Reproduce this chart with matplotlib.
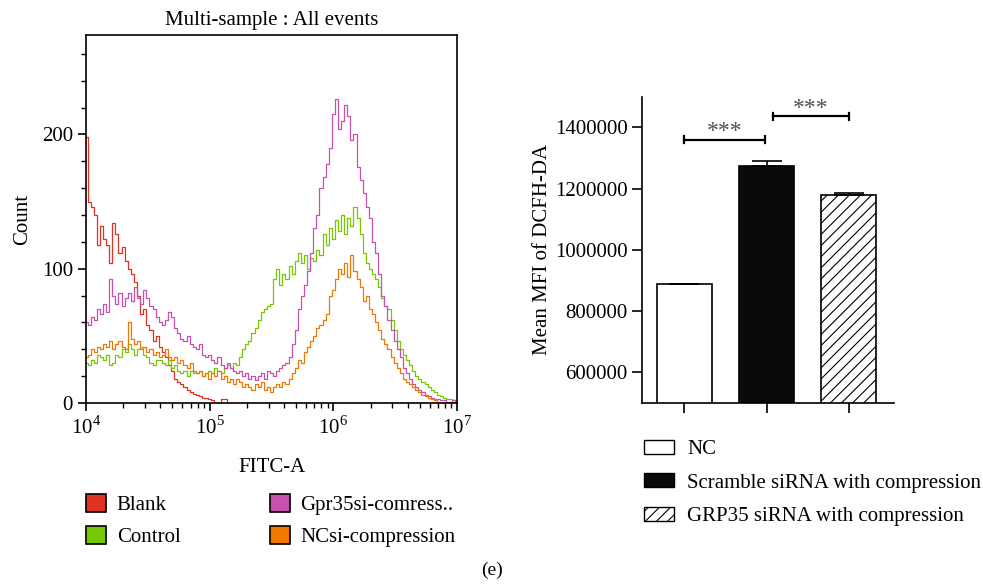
import numpy as np
import matplotlib
matplotlib.use('Agg')
from matplotlib import pyplot as plt
from matplotlib.patches import Patch
from matplotlib.ticker import FuncFormatter

plt.rcParams['font.family'] = ['Liberation Serif', 'DejaVu Serif']
plt.rcParams['mathtext.fontset'] = 'custom'
plt.rcParams['mathtext.rm'] = 'Liberation Serif'
plt.rcParams['hatch.linewidth'] = 0.8

# 直方图数据：log10(FITC-A) 从 4 到 7，每 0.025 一个点
log_bins = np.linspace(4, 7, 121)

blank = [198, 150, 146, 140, 118, 132, 122, 118, 104, 134,
         126, 112, 116, 106, 100, 96, 90, 80, 66, 70,
         58, 54, 46, 50, 42, 38, 34, 28, 24, 18,
         16, 14, 12, 10, 8, 7, 6, 5, 4, 4,
         3, 2, 0, 0, 3, 3, 0, 0, 0, 0,
         0, 0, 0, 0, 0, 0, 0, 0, 0, 0,
         0, 0, 0, 0, 0, 0, 0, 0, 0, 0,
         0, 0, 0, 0, 0, 0, 0, 0, 0, 0,
         0, 0, 0, 0, 0, 0, 0, 0, 0, 0,
         0, 0, 0, 0, 0, 0, 0, 0, 0, 0,
         0, 0, 0, 0, 0, 0, 0, 0, 0, 0,
         0, 0, 0, 0, 0, 0, 0, 0, 0, 0,
         0]
control = [30, 28, 32, 30, 36, 34, 32, 36, 28, 30,
           36, 34, 40, 38, 44, 40, 36, 40, 42, 36,
           34, 30, 28, 32, 32, 30, 28, 32, 26, 28,
           24, 22, 24, 20, 24, 22, 22, 24, 20, 22,
           24, 22, 26, 24, 22, 26, 28, 26, 30, 28,
           34, 40, 44, 46, 52, 56, 62, 68, 70, 72,
           74, 92, 100, 88, 96, 92, 102, 96, 106, 112,
           104, 110, 100, 108, 106, 114, 110, 126, 118, 130,
           122, 136, 128, 140, 126, 138, 132, 146, 138, 126,
           112, 104, 100, 96, 92, 86, 78, 72, 70, 62,
           54, 46, 40, 36, 32, 28, 24, 20, 18, 16,
           14, 12, 10, 8, 6, 5, 4, 3, 3, 2,
           2]
gpr35 = [60, 58, 64, 62, 70, 66, 74, 68, 92, 80,
         74, 82, 72, 78, 82, 76, 86, 78, 74, 84,
         78, 72, 70, 64, 60, 58, 62, 68, 64, 56,
         52, 48, 46, 50, 44, 42, 40, 44, 36, 34,
         36, 32, 30, 34, 28, 26, 30, 26, 24, 22,
         24, 20, 22, 18, 20, 17, 20, 22, 18, 24,
         22, 20, 24, 26, 28, 30, 34, 44, 54, 70,
         80, 88, 98, 112, 130, 140, 160, 168, 178, 190,
         215, 226, 204, 210, 222, 214, 196, 200, 176, 166,
         156, 146, 138, 120, 112, 96, 80, 72, 62, 54,
         46, 40, 34, 26, 22, 18, 14, 12, 10, 8,
         6, 5, 4, 3, 3, 2, 2, 1, 1, 2,
         1]
ncsi = [34, 36, 40, 38, 42, 40, 44, 42, 46, 40,
        44, 46, 42, 40, 60, 48, 44, 46, 40, 42,
        38, 40, 36, 38, 34, 36, 40, 34, 32, 34,
        30, 32, 28, 26, 30, 24, 22, 24, 20, 22,
        18, 22, 20, 24, 18, 20, 16, 18, 14, 18,
        16, 12, 14, 12, 10, 14, 12, 16, 10, 12,
        8, 12, 14, 12, 16, 14, 18, 22, 26, 32,
        30, 38, 42, 46, 50, 56, 58, 62, 66, 80,
        84, 92, 100, 96, 104, 94, 110, 98, 92, 86,
        76, 80, 70, 66, 60, 54, 48, 44, 40, 34,
        30, 26, 22, 18, 16, 14, 12, 10, 8, 6,
        5, 4, 3, 2, 0, 0, 0, 0, 0, 0,
        0]

hist_names = ['Blank', 'Control', 'Gpr35si-comress..', 'NCsi-compression']
hist_colors = ['#e03222', '#78c800', '#c850b0', '#f07800']

# 柱状图数据
groups = ['NC', 'Scramble siRNA with compression', 'GRP35 siRNA with compression']
mfi = [887000, 1275000, 1180000]
mfi_err = [3000, 14000, 4000]

fig = plt.figure(figsize=(9.83, 5.86), dpi=100)

# 左：流式直方图
ax = fig.add_axes([0.0875, 0.3123, 0.3774, 0.6280])
xs = 10 ** log_bins
for vals, c in zip([blank, control, gpr35, ncsi], hist_colors):
	ax.step(xs, vals, where='mid', color=c, lw=0.9)
ax.set_xscale('log')
ax.set_xlim(1e4, 1e7)
ax.set_ylim(0, 274)
ax.set_xticks([1e4, 1e5, 1e6, 1e7])
ax.set_xticklabels(['$10^4$', '$10^5$', '$10^6$', '$10^7$'])
ax.set_yticks([0, 100, 200])
ax.set_yticks(np.arange(20, 274, 20), minor=True)
ax.tick_params(which='major', direction='out', length=6, width=1.2, labelsize=15)
ax.tick_params(which='minor', direction='out', length=3.5, width=1)
ax.set_title('Multi-sample : All events', fontsize=15, pad=7)
ax.set_xlabel('FITC-A', fontsize=15, labelpad=14)
ax.set_ylabel('Count', fontsize=15, labelpad=7)
for s in ax.spines.values():
	s.set_linewidth(1.2)

handles = [Patch(facecolor=c, edgecolor='black', lw=1.2) for c in hist_colors]
fig.legend(handles, hist_names, ncol=2, loc='upper left',
		   bbox_to_anchor=(0.0795, 0.172), frameon=False, fontsize=15,
		   handlelength=0.95, handleheight=0.95, handletextpad=0.5,
		   columnspacing=4.3, labelspacing=0.54, borderaxespad=0)

# 右：MFI 柱状图
bx = fig.add_axes([0.6534, 0.3123, 0.2563, 0.5227])
pos = np.arange(len(groups))
bars = bx.bar(pos, mfi, width=0.668, color=['white', '#0a0a0a', 'white'],
			  edgecolor='black', linewidth=1.2)
bars[2].set_hatch('///')
bx.errorbar(pos, mfi, yerr=[np.zeros(3), mfi_err], fmt='none', ecolor='black',
			elinewidth=1.2, capsize=11, capthick=1.2)
bx.set_xlim(-0.51, 2.55)
bx.set_ylim(500000, 1500000)
bx.set_yticks(np.arange(600000, 1400001, 200000))
bx.yaxis.set_major_formatter(FuncFormatter(lambda v, p: '%d' % v))
bx.set_xticks(pos)
bx.set_xticklabels([])
bx.tick_params(direction='out', length=7, width=1.2, labelsize=15)
bx.spines['top'].set_visible(False)
bx.spines['right'].set_visible(False)
bx.spines['left'].set_linewidth(1.2)
bx.spines['bottom'].set_linewidth(1.2)
bx.set_ylabel('Mean MFI of DCFH-DA', fontsize=15, labelpad=2)

# 显著性标记
sig = [(0, 0.98, 1360000), (1.08, 2.0, 1436000)]
for x0, x1, y in sig:
	bx.plot([x0, x1], [y, y], color='black', lw=1.6)
	bx.plot([x0, x0], [y - 12000, y + 12000], color='black', lw=1.6)
	bx.plot([x1, x1], [y - 12000, y + 12000], color='black', lw=1.6)
	bx.text((x0 + x1) / 2, y - 8000, '***', ha='center', va='bottom',
			fontsize=17, color='#505050')

bar_handles = [Patch(facecolor='white', edgecolor='black', lw=1.0),
			   Patch(facecolor='#0a0a0a', edgecolor='black', lw=1.0),
			   Patch(facecolor='white', edgecolor='black', lw=1.0, hatch='///')]
fig.legend(bar_handles, groups, loc='upper left', bbox_to_anchor=(0.6465, 0.263),
		   frameon=False, fontsize=15, handlelength=1.45, handleheight=0.65,
		   handletextpad=0.62, labelspacing=0.67, borderaxespad=0)

fig.text(0.5, 0.027, '(e)', ha='center', va='center', fontsize=14)

fig.savefig('out.png', dpi=100)
